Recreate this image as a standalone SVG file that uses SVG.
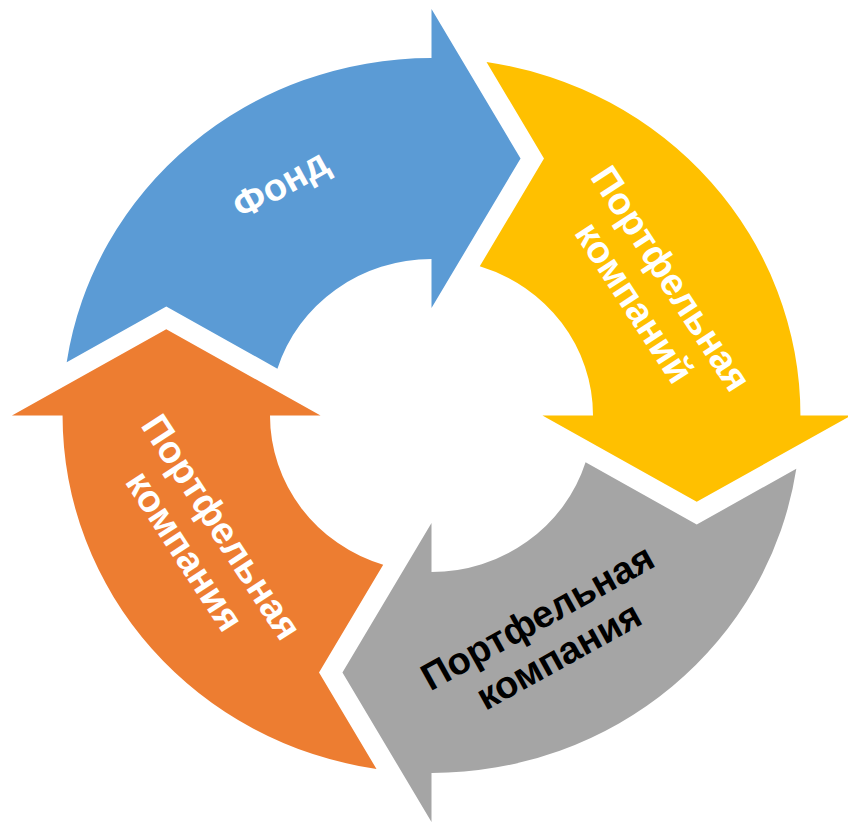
<svg xmlns="http://www.w3.org/2000/svg" xmlns:xlink="http://www.w3.org/1999/xlink" width="848" height="822" viewBox="0 0 848 822">
<style>
.lbl{font-family:"Liberation Sans",Arial,sans-serif;font-weight:bold;font-size:38px;text-anchor:middle}
.w{fill:#FFFFFF}
.k{fill:#000000}
</style>
<defs>
<path id="arrow" d="M 0,-107.5 L 86.3,-257 L 0,-406.5 L 0,-357.5 A 357.5 357.5 0 0 0 -353.5,-53.3 L -257,-109 L -149.3,-46.8 A 156.5 156.5 0 0 1 0,-156.5 Z"/>
</defs>
<rect width="848" height="822" fill="#FFFFFF"/>
<g id="connectors"></g>
<g id="node-fond">
<use xlink:href="#arrow" href="#arrow" fill="#5B9BD5" transform="translate(431.5,415.5) scale(1.032,1)"/>
<text class="lbl w" transform="translate(280,183) rotate(-29)"><tspan x="0" y="14">Фонд</tspan></text>
</g>
<g id="node-yellow">
<use xlink:href="#arrow" href="#arrow" fill="#FFC000" transform="translate(431.5,415.5) scale(1.032,1) rotate(90)"/>
<text class="lbl w" transform="translate(653.5,290) rotate(57)"><tspan x="0" y="-8">Портфельная</tspan><tspan x="0" y="36">компаний</tspan></text>
</g>
<g id="node-gray">
<use xlink:href="#arrow" href="#arrow" fill="#A5A5A5" transform="translate(431.5,415.5) scale(1.032,1) rotate(180)"/>
<text class="lbl k" transform="translate(547.5,635.5) rotate(-29)"><tspan x="0" y="-8">Портфельная</tspan><tspan x="0" y="36">компания</tspan></text>
</g>
<g id="node-orange">
<use xlink:href="#arrow" href="#arrow" fill="#ED7D31" transform="translate(431.5,415.5) scale(1.032,1) rotate(270)"/>
<text class="lbl w" transform="translate(204,538.5) rotate(57)"><tspan x="0" y="-8">Портфельная</tspan><tspan x="0" y="36">компания</tspan></text>
</g>
</svg>
